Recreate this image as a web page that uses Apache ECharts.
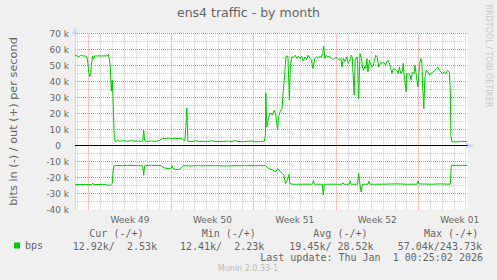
<!DOCTYPE html>
<html><head><meta charset="utf-8">
<script src="https://cdn.jsdelivr.net/npm/echarts@6/dist/echarts.min.js"></script>
<style>html,body{margin:0;padding:0;background:#F0F0F0}#c{width:497px;height:280px}</style>
</head><body><div id="c"></div>
<script>
const chartTitle = 'ens4 traffic - by month';
const yAxisTitle = 'bits in (-) / out (+) per second';
const weekLabels = ['Week 49', 'Week 50', 'Week 51', 'Week 52', 'Week 01'];
const seriesName = 'bps';
// [hours since graph start, kbit/s]
const outPoints = [[0,56.5],[4,56],[8,55.5],[12,56.5],[16,56],[20,56],[24,55.5],[26,52],[28,46],[30,43],[32,45],[34,52],[36,56],[38,54],[40,56],[46,56],[54,56],[62,56],[66,56],[68,57],[70,54],[72,49],[74,34],[76,41],[78,25],[80,5],[82,2.5],[86,3],[92,2.7],[98,3],[106,2.6],[114,3],[122,2.7],[130,2.8],[136,2.6],[138,3],[140,9.5],[142,3],[146,2.6],[156,2.8],[166,2.6],[172,3.2],[176,4],[182,4.5],[186,4.2],[190,4.6],[196,4.3],[202,4.5],[210,4.4],[216,4.5],[220,3.8],[224,3],[226,12],[228,23.5],[230,2.6],[238,2.5],[246,3],[254,2.4],[262,2.6],[270,2.5],[278,3],[286,2.4],[294,2.6],[302,2.5],[310,2.8],[318,2.4],[326,3],[334,2.5],[342,2.4],[350,2.6],[358,2.8],[366,2.5],[374,2.4],[382,2.6],[386,2.5],[388,6.4],[389,32.9],[391,11.6],[394,16.9],[398,20.4],[402,19],[406,22],[409,19.6],[413,10],[415,17.9],[419,22],[422,23],[424,32.5],[427,42.9],[430,55.8],[434,55.8],[437,28.3],[439,50.2],[442,55.4],[445,55],[449,56.4],[452,54.5],[455,55.8],[459,54.5],[462,55.8],[465,52.9],[469,55.4],[472,53.8],[475,56.4],[479,54.5],[482,53.3],[485,48.1],[489,54.5],[492,55.4],[495,54.5],[499,55.8],[502,55],[505,57.5],[507,62],[509,54.5],[512,56.4],[515,55.4],[519,55.8],[522,54.5],[525,53.8],[529,54.5],[532,55],[535,54.5],[539,53.3],[542,54.5],[544,49],[547,54.5],[550,52.4],[554,55.4],[557,51.3],[561,53.8],[563,56.4],[565,55.4],[569,31.4],[571,53.3],[575,55.4],[576,53.3],[578,29.4],[581,57.5],[584,54.4],[586,49],[588,47],[591,49.5],[593,48],[595,54.4],[597,46],[600,53.3],[603,50.2],[606,49],[609,51.3],[613,56.4],[616,55.4],[619,49],[623,52],[626,51.3],[629,52],[633,50.2],[636,52.6],[639,53],[643,49],[646,45],[649,48],[653,47.5],[656,47],[659,45],[661,49],[664,45],[667,46],[669,51.3],[671,44],[675,33.5],[676,45],[679,45],[683,44],[685,40.8],[688,46],[691,45],[693,50.2],[696,43],[699,36.6],[701,45],[703,51.8],[705,54.4],[707,51.3],[709,34.5],[711,23.1],[713,41.9],[716,47],[719,46],[723,44],[726,45],[729,46],[733,47],[736,48],[739,49],[742,47.5],[746,46],[749,45],[753,46],[756,45],[759,47],[763,46],[765,35],[766,6.4],[768,2.5],[776,2.2],[786,2.6],[798,2.5],[800,2.5]];
const inPoints = [[0,-24.4],[10,-24.4],[20,-24.4],[34,-24.4],[36,-23.5],[38,-24.4],[56,-24.4],[66,-24.6],[68,-25.2],[70,-24.4],[72,-25],[74,-24.4],[76,-23.5],[78,-15],[80,-12.4],[96,-12.6],[110,-12.4],[126,-12.6],[138,-12.6],[140,-18.6],[142,-12.6],[156,-12.4],[176,-12.6],[178,-13.5],[182,-14],[190,-14.4],[196,-14.2],[198,-12.6],[200,-14.4],[206,-15],[212,-15],[216,-14],[219,-13],[222,-12.6],[236,-12.8],[246,-12.6],[252,-12.4],[258,-12.8],[266,-12.6],[286,-12.6],[306,-12.8],[326,-12.6],[346,-12.6],[366,-12.6],[388,-12.6],[392,-13.7],[396,-14.5],[403,-15.4],[409,-16.5],[413,-14.4],[419,-16.5],[426,-18.6],[429,-23.8],[433,-21.7],[436,-18.1],[438,-23.8],[443,-24.2],[466,-24.2],[484,-24.2],[486,-22],[488,-24.2],[504,-24.2],[506,-31],[508,-24.2],[526,-24.2],[544,-24.2],[546,-23.2],[548,-24.2],[559,-24.2],[561,-22],[563,-24.2],[576,-24.2],[578,-17.5],[583,-29],[586,-24.2],[597,-24.2],[599,-22.2],[601,-24.2],[626,-24.2],[656,-24],[676,-24.2],[697,-24.2],[699,-22],[701,-24],[726,-24.2],[746,-24],[765,-24.2],[767,-12.4],[800,-12.4]];
const legendHeaders = ['Cur (-/+)', 'Min (-/+)', 'Avg (-/+)', 'Max (-/+)'];
const legendValues = ['12.92k/  2.53k', '12.41k/  2.23k', '19.45k/ 28.52k', '57.04k/243.73k'];
const lastUpdate = 'Last update: Thu Jan  1 00:25:02 2026';
const watermark = 'RRDTOOL / TOBI OETIKER';
const footer = 'Munin 2.0.33-1';

// time axis: hours 0..800, slots every 2 hours (one pixel each)
const spanHours = 800, slotHours = 2;
const slots = [];
for (let h = 0; h <= spanHours; h += slotHours) slots.push(String(h));
const firstMidnight = 4, firstWeek = 28, dayH = 24, weekH = 168;
const yMin = -40, yMax = 70, yStep = 10;
const isWeekMid = (i) => ((i * slotHours - firstWeek - weekH / 2) % weekH) === 0 && i * slotHours > firstWeek;

const SANS = '"DejaVu Sans", sans-serif';
const MONO = '"DejaVu Sans Mono", monospace';
const GREEN = '#00CC00';
const AXIS = '#CFD6F8';
const FONT = '#666666';
const MINOR = '#CCCCCC';
const MAJOR = '#EE8888';

// grid lines (rrdtool style) as marker lines on the axes
const gridLines = [];
const minorStyle = {color: MINOR, width: 1, type: [1, 1]};
const majorStyle = {color: MAJOR, width: 1, type: [1, 1]};
for (let h = firstMidnight; h < spanHours; h += dayH) {
  const week = ((h - firstWeek) % weekH) === 0;
  gridLines.push({xAxis: h, lineStyle: week ? majorStyle : minorStyle});
}
for (let v = yMin + yStep / 2; v <= yMax; v += yStep / 2) {
  const major = (v % yStep) === 0;
  gridLines.push({yAxis: v, lineStyle: major ? majorStyle : minorStyle});
}

const chart = echarts.init(document.getElementById('c'), null, {renderer: 'svg'});
const hdrLeft = [89.3, 201.7, 313.3, 424];
const valLeft = [72.7, 180, 289.3, 397.7];
const graphics = [];
legendHeaders.forEach((t, k) => graphics.push({type: 'text', x: hdrLeft[k], y: 233.5,
  style: {text: t, font: '10px ' + MONO, fill: FONT, textVerticalAlign: 'middle'}}));
legendValues.forEach((t, k) => graphics.push({type: 'text', x: valLeft[k], y: 246,
  style: {text: t, font: '10px ' + MONO, fill: FONT, textVerticalAlign: 'middle'}}));
graphics.push({type: 'text', x: 483, y: 257.5, style: {text: lastUpdate, font: '10px ' + MONO, fill: FONT, textAlign: 'right', textVerticalAlign: 'middle'}});
graphics.push({type: 'text', x: 248, y: 268.5, style: {text: footer, font: '8px ' + SANS, fill: '#BBBBBB', textAlign: 'center', textVerticalAlign: 'middle'}});
graphics.push({type: 'text', x: 488.5, y: 56, rotation: -Math.PI / 2, style: {text: watermark, font: '8px ' + SANS, fill: '#C8C8C8', textAlign: 'center', textVerticalAlign: 'middle'}});

const option = {
  animation: false,
  backgroundColor: '#F0F0F0',
  title: {text: chartTitle, left: 'center', top: 6, padding: 0,
    textStyle: {fontFamily: SANS, fontSize: 12.5, fontWeight: 'normal', color: FONT}},
  legend: {data: [seriesName], left: 14, top: 239.5, padding: 0, icon: 'rect', itemWidth: 6, itemHeight: 6,
    selectedMode: false, textStyle: {fontFamily: MONO, fontSize: 10, color: FONT, lineHeight: 12}},
  grid: {left: 67.5, top: 33.5, width: 400, height: 176, show: true, backgroundColor: '#FFFFFF', borderWidth: 0, containLabel: false},
  xAxis: [
    {type: 'category', data: slots, boundaryGap: false, position: 'bottom',
      axisLine: {show: true, lineStyle: {color: AXIS, width: 1}, symbol: ['none', 'triangle'], symbolSize: [6, 8], symbolOffset: [0, 3]},
      axisTick: {show: false},
      axisLabel: {show: true, interval: (i) => isWeekMid(i), margin: 6, fontFamily: SANS, fontSize: 9, color: FONT,
        formatter: (v, i) => weekLabels[Math.round((i * slotHours - firstWeek - weekH / 2) / weekH)] || ''},
      splitLine: {show: false}},
    {type: 'value', min: 0, max: spanHours, show: false}
  ],
  yAxis: {type: 'value', min: yMin, max: yMax, interval: yStep,
    name: yAxisTitle, nameLocation: 'middle', nameRotate: 90, nameGap: 56,
    nameTextStyle: {fontFamily: SANS, fontSize: 11.3, color: FONT},
    axisLine: {show: true, lineStyle: {color: AXIS, width: 1}, symbol: ['none', 'triangle'], symbolSize: [6, 8], symbolOffset: [0, 3]},
    axisTick: {show: false},
    axisLabel: {margin: 6, fontFamily: SANS, fontSize: 9, color: FONT,
      formatter: (v) => v === 0 ? '{z|0}' : v + ' k',
      rich: {z: {fontFamily: SANS, fontSize: 9, color: FONT, padding: [0, 8, 0, 0]}}},
    splitLine: {show: false}
  },
  graphic: graphics,
  series: [
    {name: seriesName, type: 'line', xAxisIndex: 1, data: outPoints, showSymbol: false, symbol: 'none',
      lineStyle: {color: GREEN, width: 1}, itemStyle: {color: GREEN}, z: 3,
      markLine: {silent: true, symbol: 'none', label: {show: false}, animation: false, z: 4,
        lineStyle: {color: '#000000', width: 1, type: 'solid'}, data: [{yAxis: 0}]}},
    {name: seriesName, type: 'line', xAxisIndex: 1, data: inPoints, showSymbol: false, symbol: 'none',
      lineStyle: {color: GREEN, width: 1}, itemStyle: {color: GREEN}, z: 3,
      markLine: {silent: true, symbol: 'none', label: {show: false}, animation: false, z: 1,
        emphasis: {disabled: true}, data: gridLines}}
  ]
};
chart.setOption(option);
</script>
</body></html>
